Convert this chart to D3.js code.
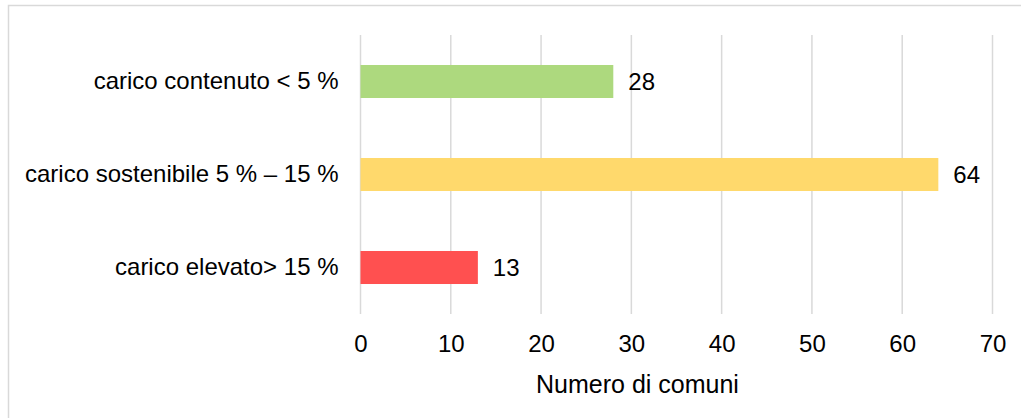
<!DOCTYPE html>
<html>
<head>
<meta charset="utf-8">
<script src="https://cdn.jsdelivr.net/npm/d3@7"></script>
<style>
  body { margin: 0; background: #fff; }
  svg { font-family: "Liberation Sans", Arial, sans-serif; }
</style>
</head>
<body>
<div id="plot"></div>
<script>
"use strict";

const categories = ["carico contenuto < 5 %", "carico sostenibile 5 % \u2013 15 %", "carico elevato> 15 %"];
const values = [28, 64, 13];
const barColors = ["#ADD97E", "#FFD96C", "#FF5050"];
const xTicks = [0, 10, 20, 30, 40, 50, 60, 70];
const xTitle = "Numero di comuni";

const msm = {
    width: 1021,
    height: 418,
    left: 360.5,
    right: 992.5,
    top: 35,
    bottom: 314,
    fontSize: "24px"
};

const svg = d3.select("#plot")
    .append("svg")
    .attr("width", msm.width)
    .attr("height", msm.height);

// outer chart frame (runs off the right and bottom edges)
svg.append("rect")
    .attr("x", 8.5)
    .attr("y", 5.5)
    .attr("width", 1100)
    .attr("height", 500)
    .attr("fill", "none")
    .attr("stroke", "#d9d9d9")
    .attr("stroke-width", 1.5);

const xScale = d3.scaleLinear()
    .domain([0, 70])
    .range([msm.left, msm.right]);

const yScale = d3.scaleBand()
    .domain(categories)
    .range([msm.top, msm.bottom])
    .paddingInner(0.645)
    .paddingOuter(0.3225);

// vertical gridlines
svg.append("g")
    .selectAll("line")
    .data(xTicks)
    .enter()
    .append("line")
    .attr("x1", d => xScale(d))
    .attr("x2", d => xScale(d))
    .attr("y1", msm.top)
    .attr("y2", msm.bottom)
    .attr("stroke", "#d9d9d9")
    .attr("stroke-width", 1.5);

// x axis tick labels
const xAxis = d3.axisBottom(xScale).tickValues(xTicks).tickSize(0).tickPadding(21);
const gx = svg.append("g")
    .attr("transform", "translate(0," + msm.bottom + ")")
    .call(xAxis);
gx.select(".domain").remove();
gx.selectAll("text")
    .style("font-size", msm.fontSize)
    .style("font-family", "'Liberation Sans', Arial, sans-serif")
    .attr("fill", "#000");

// y axis category labels
const yAxis = d3.axisLeft(yScale).tickSize(0).tickPadding(22);
const gy = svg.append("g")
    .attr("transform", "translate(" + msm.left + ",0)")
    .call(yAxis);
gy.select(".domain").remove();
gy.selectAll("text")
    .style("font-size", msm.fontSize)
    .style("font-family", "'Liberation Sans', Arial, sans-serif")
    .attr("fill", "#000");

// bars
svg.append("g")
    .selectAll("rect")
    .data(values)
    .enter()
    .append("rect")
    .attr("x", xScale(0))
    .attr("y", (d, i) => yScale(categories[i]))
    .attr("width", d => xScale(d) - xScale(0))
    .attr("height", yScale.bandwidth())
    .attr("fill", (d, i) => barColors[i]);

// value labels
svg.append("g")
    .selectAll("text")
    .data(values)
    .enter()
    .append("text")
    .attr("x", d => xScale(d) + 15)
    .attr("y", (d, i) => yScale(categories[i]) + yScale.bandwidth() / 2)
    .attr("dy", "0.35em")
    .style("font-size", msm.fontSize)
    .text(d => d);

// axis title
svg.append("text")
    .attr("x", 637.5)
    .attr("y", 393)
    .attr("text-anchor", "middle")
    .style("font-size", "25px")
    .text(xTitle);
</script>
</body>
</html>
